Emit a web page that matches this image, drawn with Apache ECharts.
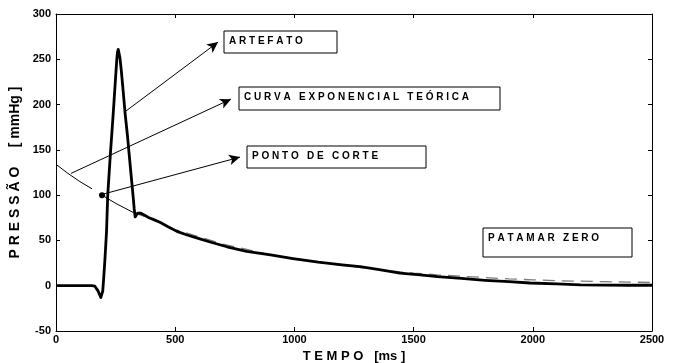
<!DOCTYPE html>
<html><head><meta charset="utf-8">
<script src="https://cdn.jsdelivr.net/npm/echarts@6/dist/echarts.min.js"></script>
<style>html,body{margin:0;padding:0;background:#fff}#c{width:678px;height:363px}</style>
</head><body><div id="c"></div>
<script>
// measured pressure curve [ms, mmHg]
const pressureData = [
  [0,0],[50,0],[100,0],[150,0],[163,-0.5],[170,-2],[177,-6],[183,-10],[188,-13],[192,-12],[196,-6],[200,8],[205,28],
  [212,60],[217,100],[228,145],[240,190],[250,230],[255,250],[258,258],[261,261],[264,259],[268,252],[273,240],
  [280,220],[290,190],[300,165],[314,125],[323,100],[328,85],[332,76],[336,77],[342,80],[348,82],[356,80],[370,78],
  [390,75],[410,73],[436,70],[470,65],[507,60],[550,56],[600,52],[650,48],[717,43],[800,38],[900,34],[994,30],
  [1100,26],[1200,23],[1275,21],[1350,18],[1443,14],[1527,12],[1600,10],[1700,8],[1800,6],[1900,4.5],[1988,3],
  [2100,2],[2200,1],[2300,0.6],[2400,0.5],[2500,0.5]
];
// theoretical exponential curve, first (pre-cut) piece
const theoryStart = [[0,134],[50,124],[100,115],[151,107]];
// theoretical curve from the cut point to the first junction
const theoryCut = [[193,100],[250,91],[323,81]];
// theoretical curve tail (dashed)
const theoryTail = [
  [323,81],[400,74],[500,62],[600,54],[700,46],[800,40],[900,34],[1000,30],[1100,26],[1200,22.5],[1300,19.5],
  [1400,16.5],[1500,14],[1600,12],[1700,10.5],[1800,9],[1900,7.5],[2000,6.5],[2100,5.5],[2200,5],[2300,4.5],
  [2400,4],[2500,3.5]
];
const cutPoint = [[193,100]];
const xTicks = {min:0, max:2500, step:500};
const yTicks = {min:-50, max:300, step:50};
// annotation arrows [from, to] in data units
const arrows = [
  [[289,192],[680,269]],
  [[63,124],[734,206]],
  [[196,101],[772,142]]
];
const notes = ['A R T E F A T O','C U R V A   E X P O N E N C I A L   T E Ó R I C A','P O N T O   D E   C O R T E','P A T A M A R   Z E R O'];

const FONT = '"Liberation Sans", Arial, sans-serif';
const chart = echarts.init(document.getElementById('c'), null, {renderer:'canvas'});
const axisCommon = {
  axisLine:{show:true, onZero:false, lineStyle:{color:'#000', width:1}},
  axisTick:{show:true, inside:true, length:4, lineStyle:{color:'#000'}},
  splitLine:{show:false}
};
function box(x,y,w,h,text){
  return [
    {type:'rect', shape:{x:x,y:y,width:w,height:h}, style:{fill:'#fff', stroke:'#000', lineWidth:1}, z:100},
    {type:'text', x:x+5, y:y+5, style:{text:text, font:'bold 10px '+FONT, fill:'#000', textVerticalAlign:'top'}, z:101}
  ];
}
chart.setOption({
  animation:false,
  grid:{left:56, right:26, top:14, bottom:32, containLabel:false, outerBoundsMode:'none'},
  xAxis:[
    Object.assign({type:'value', min:xTicks.min, max:xTicks.max, interval:xTicks.step, position:'bottom',
      name:'T E M P O   [ms ]', nameLocation:'middle', nameGap:16,
      nameTextStyle:{fontFamily:FONT, fontWeight:'bold', fontSize:13, color:'#000'},
      axisLabel:{fontFamily:FONT, fontWeight:'bold', fontSize:11, color:'#000', margin:3,
        formatter:v=>String(v)}}, axisCommon),
    Object.assign({type:'value', min:xTicks.min, max:xTicks.max, interval:xTicks.step, position:'top',
      axisLabel:{show:false}}, axisCommon)
  ],
  yAxis:[
    Object.assign({type:'value', min:yTicks.min, max:yTicks.max, interval:yTicks.step, position:'left',
      name:'P R E S S Ã O     [ mmHg ]', nameLocation:'middle', nameGap:27, nameRotate:90,
      nameTextStyle:{fontFamily:FONT, fontWeight:'bold', fontSize:14, color:'#000'},
      axisLabel:{fontFamily:FONT, fontWeight:'bold', fontSize:11, color:'#000', margin:5,
        formatter:v=>String(v)}}, axisCommon),
    Object.assign({type:'value', min:yTicks.min, max:yTicks.max, interval:yTicks.step, position:'right',
      axisLabel:{show:false}}, axisCommon)
  ],
  series:[
    {type:'line', data:theoryTail, showSymbol:false, silent:true, z:2,
      lineStyle:{color:'#7a7a7a', width:1.3, type:[12,7]}},
    {type:'line', data:pressureData, showSymbol:false, silent:true, z:3,
      lineStyle:{color:'#000', width:2.8, join:'round'}},
    {type:'line', data:theoryStart, showSymbol:false, silent:true, z:4, lineStyle:{color:'#000', width:1}},
    {type:'line', data:theoryCut, showSymbol:false, silent:true, z:4, lineStyle:{color:'#000', width:1},
      markLine:{silent:true, animation:false, label:{show:false},
        lineStyle:{color:'#000', width:1, type:'solid'}, symbolSize:[8,11],
        data:arrows.map(a=>[{coord:a[0], symbol:'none'},{coord:a[1], symbol:'arrow'}])}},
    {type:'scatter', data:cutPoint, symbolSize:6, itemStyle:{color:'#000', opacity:1}, silent:true, z:5}
  ],
  graphic:[].concat(
    box(224,31,113,22,notes[0]),
    box(239,87,261,23,notes[1]),
    box(247,146,179,22,notes[2]),
    box(483,228,149,29,notes[3])
  )
});
</script></body></html>
